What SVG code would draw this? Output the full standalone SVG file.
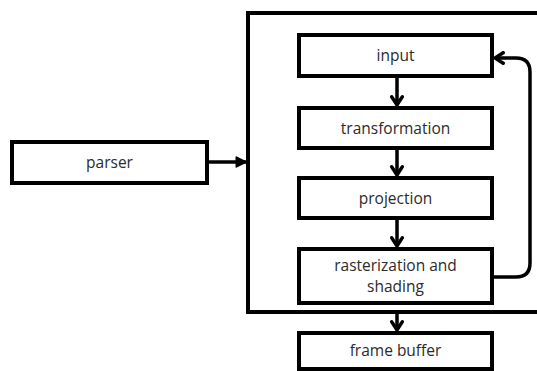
<svg xmlns="http://www.w3.org/2000/svg" width="537" height="371" viewBox="0 0 537 371">
<style>
.box{fill:#fff;stroke:#000;stroke-width:4}
.t{font-family:"Open Sans","Noto Sans",sans-serif;font-size:15.5px;fill:#2b2b2b;text-anchor:middle}
.c{fill:none;stroke:#000;stroke-width:3.5}
</style>
<defs>
<marker id="tri" viewBox="0 0 10 10" refX="9" refY="5" markerWidth="12" markerHeight="12" orient="auto" markerUnits="userSpaceOnUse">
<path d="M1,1 L9,5 L1,9 Z" fill="#000" stroke="#000" stroke-width="1.5" stroke-linejoin="round"/>
</marker>
<marker id="v" viewBox="0 0 12 12" refX="10" refY="6" markerWidth="14" markerHeight="14" orient="auto" markerUnits="userSpaceOnUse">
<path d="M3,1.5 L10,6 L3,10.5" fill="none" stroke="#000" stroke-width="3" stroke-linejoin="miter" stroke-linecap="round"/>
</marker>
</defs>
<g id="pipeline"><rect class="box" x="248" y="13" width="300" height="299"/></g>
<g id="parser"><rect class="box" x="12" y="142" width="195" height="41"/><text class="t" x="109.5" y="168">parser</text></g>
<g id="input"><rect class="box" x="299" y="35" width="193" height="41"/><text class="t" x="395.5" y="61">input</text></g>
<g id="transformation"><rect class="box" x="299" y="108" width="193" height="40"/><text class="t" x="395.5" y="133.5">transformation</text></g>
<g id="projection"><rect class="box" x="299" y="178" width="193" height="40"/><text class="t" x="395.5" y="203.5">projection</text></g>
<g id="rasterization"><rect class="box" x="299" y="249" width="193" height="54"/><text class="t" x="395.5" y="271">rasterization and</text><text class="t" x="395.5" y="292">shading</text></g>
<g id="framebuffer"><rect class="box" x="299" y="333" width="193" height="36"/><text class="t" x="395.5" y="356">frame buffer</text></g>
<g id="connectors">
<path class="c" d="M207,162 H246" marker-end="url(#tri)"/>
<path class="c" d="M397,77 V105" marker-end="url(#v)"/>
<path class="c" d="M397,149 V175" marker-end="url(#v)"/>
<path class="c" d="M397,219 V246" marker-end="url(#v)"/>
<path class="c" d="M397,313 V330" marker-end="url(#v)"/>
<path class="c" d="M494,277 H516 Q530,277 530,263 V72 Q530,58 516,58 H495" marker-end="url(#v)"/>
</g>
</svg>
